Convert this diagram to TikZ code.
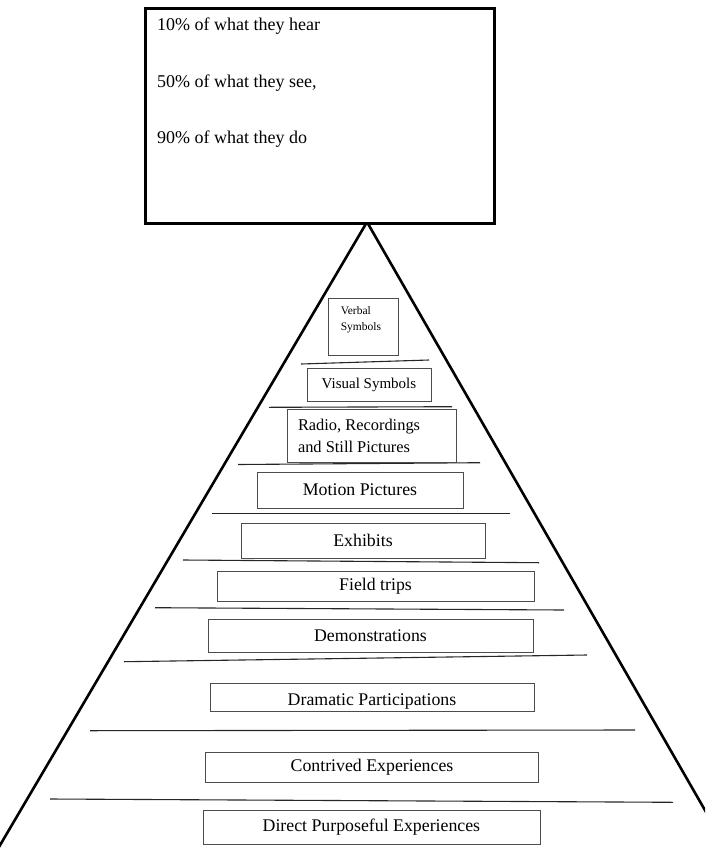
\documentclass[tikz,border=0pt]{standalone}
\usepackage{fontspec}
\setmainfont{Liberation Serif}
\usetikzlibrary{positioning}
\frenchspacing
\tikzset{
  pbox/.style={draw=black!70,line width=0.8pt,inner sep=0pt,align=center,
    font=\fontsize{17.8}{21}\selectfont},
  ptop/.style={draw,line width=2.6pt,fill=white,inner sep=0pt},
  ptext/.style={font=\fontsize{18}{22}\selectfont,anchor=base west,inner sep=0pt},
  psmall/.style={font=\fontsize{11.5}{16}\selectfont,align=flush left,inner sep=0pt},
  prung/.style={draw=black!85,line width=1.1pt},
  pside/.style={draw,line width=2.6pt},
}
\begin{document}
\begin{tikzpicture}[x=1pt,y=-1pt]
\useasboundingbox (0,0) rectangle (705,852);
\clip (0,0) rectangle (705,852);
% pyramid
\coordinate (apex) at (367,222);
\coordinate (bl) at (-4,852);
\coordinate (br) at (729,852);
\draw[pside] (bl) -- (apex) -- (br);
% top box
\node[ptop,minimum width=349pt,minimum height=215pt,anchor=north west] (top) at (144,7) {};
\node[ptext] (hear) at (157,30.7) {10\% of what they hear};
\node[ptext] (see) at (157,87.3) {50\% of what they see,};
\node[ptext] (doing) at (157,143.3) {90\% of what they do};
% rungs
\draw[prung] (301,364) -- (429,360);
\draw[prung] (269,407.3) -- (452,406.7);
\draw[prung] (238,464.5) -- (480,462.7);
\draw[prung] (212,513.3) -- (510,513.3);
\draw[prung] (183,560) -- (539,562.7);
\draw[prung] (155,607.7) -- (564,610);
\draw[prung] (124,661.7) -- (587,655);
\draw[prung] (90,730.7) -- (635,730);
\draw[prung] (50,799) -- (673,802.3);
% levels
\node[pbox,minimum width=70pt,minimum height=57pt] (verbal) at (363,326.5) {};
\node[psmall,below right=9pt and 13pt of verbal.north west] (verbaltxt) {Verbal\\Symbols};
\node[pbox,font=\fontsize{15}{18}\selectfont,minimum width=124pt,minimum height=33pt] (visual) at (369,384.5) {Visual Symbols};
\node[pbox,font=\fontsize{16.4}{22}\selectfont,align=flush left,text width=147pt,inner xsep=11pt,minimum height=53pt] (radio) at (371.5,435.5) {Radio, Recordings\\and Still Pictures};
\node[pbox,minimum width=206pt,minimum height=36pt] (motion) at (360,490) {Motion Pictures};
\node[pbox,minimum width=244pt,minimum height=35pt] (exhibits) at (363,540.5) {Exhibits};
\node[pbox,minimum width=317pt,minimum height=30pt] (field) at (375.5,586) {Field trips};
\node[pbox,minimum width=325pt,minimum height=33pt] (demo) at (370.5,635.5) {Demonstrations};
\node[pbox,minimum width=324pt,text height=22pt,text depth=6pt] (drama) at (372,697) {Dramatic Participations};
\node[pbox,minimum width=333.5pt,minimum height=29.6pt] (contrived) at (372,767.5) {Contrived Experiences};
\node[pbox,minimum width=337pt,minimum height=34.7pt] (direct) at (371.4,827.3) {Direct Purposeful Experiences};
\end{tikzpicture}
\end{document}
